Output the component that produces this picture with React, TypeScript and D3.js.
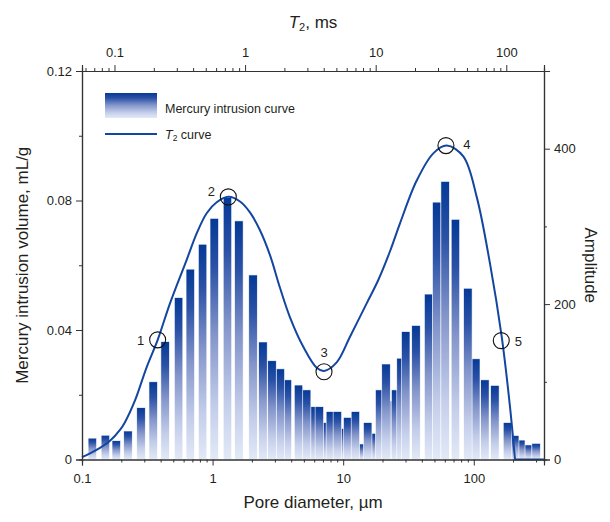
import React, { useEffect, useRef } from "react";
import * as d3 from "d3";

// Mercury intrusion bars: pore diameter (µm) and volume (mL/g)
const barDiameters = [
  0.12, 0.151, 0.183, 0.225, 0.283, 0.351, 0.433, 0.549, 0.675, 0.838,
  1.03, 1.3, 1.59, 2.04, 2.43, 2.85, 3.3, 3.74, 4.55, 5.25,
  6.08, 6.57, 7.0, 7.98, 9.03, 10.09, 10.83, 12.41, 13.87, 15.41,
  17.43, 19.04, 21.28, 23.41, 25.25, 27.73, 30.13, 36.1, 45.1, 52.05,
  60.37, 72.39, 90.1, 103.6, 121.6, 145.1, 181.2, 205.8, 229.1, 259.3, 300.2,
];
const barVolumes = [
  0.0066, 0.0075, 0.0058, 0.0088, 0.016, 0.024, 0.0364, 0.05, 0.0588, 0.0665,
  0.0745, 0.0809, 0.0737, 0.057, 0.0363, 0.0305, 0.028, 0.0246, 0.023, 0.0215,
  0.0163, 0.0163, 0.0114, 0.0148, 0.0148, 0.0096, 0.013, 0.0148, 0.0048, 0.0114,
  0.0081, 0.0215, 0.0295, 0.0181, 0.0215, 0.0313, 0.0395, 0.0414, 0.0511, 0.0795,
  0.0859, 0.0742, 0.0529, 0.0311, 0.0246, 0.0229, 0.0114, 0.0074, 0.006, 0.0045, 0.005,
];

// T2 spectrum: relaxation time (ms) and amplitude
const t2Times = [
  0.0564, 0.0649, 0.0775, 0.0924, 0.1102, 0.1203, 0.1436, 0.1765, 0.2142, 0.2661,
  0.3571, 0.426, 0.508, 0.606, 0.7438, 0.914, 1.09, 1.3, 1.551, 1.85,
  2.207, 2.79, 3.533, 4.019, 5.028, 6.357, 8.532, 10.47, 12.87, 15.35,
  20.61, 27.61, 34.97, 46.87, 59.35, 75.04, 92.21, 106.7, 116.6,
];
const t2Amplitudes = [
  3, 8, 15, 24, 38, 48, 76, 119, 154, 201,
  257, 291, 317, 331, 338, 332, 318, 295, 263, 221,
  183, 145, 118, 114, 125, 158, 201, 231, 268, 304,
  359, 394, 404, 390, 338, 252, 158, 68, 0,
];
// flat tail of the spectrum after it reaches zero
const t2TailEnd = 194.4;

// marked points on the T2 curve
const markTimes = [0.214, 0.744, 4.02, 34.5, 91.5];
const markAmps = [154, 338, 113, 404, 153];
const markLabels = ["1", "2", "3", "4", "5"];

const bottomMajor = [0.1, 1, 10, 100];
const topMajor = [0.1, 1, 10, 100];
const leftMajor = [0, 0.04, 0.08, 0.12];
const leftMinor = [0.02, 0.06, 0.1];
const rightMajor = [0, 200, 400];
const rightMinor = [100, 300, 500];

const FONT = "'Liberation Sans', Arial, sans-serif";
const INK = "#231f20";
const LINE = "#1346a0";

const minorLog = (lo: number, hi: number) => {
  const out: number[] = [];
  for (let p = -2; p <= 3; p++) {
    for (let k = 2; k <= 9; k++) {
      const v = k * Math.pow(10, p);
      if (v > lo && v < hi) out.push(v);
    }
  }
  return out;
};

const App = () => {
  const ref = useRef<SVGSVGElement | null>(null);

  useEffect(() => {
    const svg = d3.select(ref.current);
    svg.selectAll("*").remove();

    const left = 82, right = 544, top = 71, bottom = 459.5;

    const x = d3.scaleLog().domain([0.1, 345]).range([left, right]);
    const xt = d3.scaleLog().domain([0.0564, 194.4]).range([left, right]);
    const y = d3.scaleLinear().domain([0, 0.12]).range([bottom, top]);
    const yr = d3.scaleLinear().domain([0, 500]).range([bottom, top]);

    const defs = svg.append("defs");
    const grad = defs
      .append("linearGradient")
      .attr("id", "barGrad")
      .attr("x1", 0).attr("y1", 0).attr("x2", 0).attr("y2", 1);
    [
      [0, "#043996"],
      [0.2, "#2a51a6"],
      [0.48, "#8294ca"],
      [0.78, "#c3cdea"],
      [1, "#e2eaf7"],
    ].forEach(([o, c]) => grad.append("stop").attr("offset", o as number).attr("stop-color", c as string));

    // bars, shorter first so taller ones sit on top
    const half = Math.pow(10, 0.0325);
    const bars = barDiameters.map((d, i) => ({ d, v: barVolumes[i] }));
    bars.sort((a, b) => a.v - b.v);
    svg
      .append("g")
      .selectAll("rect")
      .data(bars)
      .enter()
      .append("rect")
      .attr("x", (b) => x(b.d / half))
      .attr("width", (b) => x(b.d * half) - x(b.d / half))
      .attr("y", (b) => y(b.v))
      .attr("height", (b) => bottom - y(b.v))
      .attr("fill", "url(#barGrad)")
      .attr("stroke", "#ffffff")
      .attr("stroke-width", 0.6);

    // T2 curve: smooth part, then flat tail along zero
    const pts: [number, number][] = t2Times.map((t, i) => [xt(t), yr(t2Amplitudes[i])]);
    const last = pts[pts.length - 1];
    const smooth = d3.line().curve(d3.curveCatmullRom.alpha(0.5))(pts) as string;
    svg
      .append("path")
      .attr("d", `${smooth}L${xt(t2TailEnd)},${last[1]}`)
      .attr("fill", "none")
      .attr("stroke", LINE)
      .attr("stroke-width", 2)
      .attr("stroke-linejoin", "round");

    // marks
    const offs = [
      [-17, 5], [-17, -1], [0, -15], [21, 3], [17, 5],
    ];
    markTimes.forEach((t, i) => {
      const cx = xt(t), cy = yr(markAmps[i]);
      svg.append("circle").attr("cx", cx).attr("cy", cy).attr("r", 8)
        .attr("fill", "none").attr("stroke", "#111").attr("stroke-width", 1.1);
      svg.append("text").attr("x", cx + offs[i][0]).attr("y", cy + offs[i][1])
        .attr("text-anchor", "middle").attr("font-size", 13).attr("font-family", FONT)
        .attr("fill", INK).text(markLabels[i]);
    });

    // axes
    const styleAxis = (g: any) => {
      g.selectAll("path").attr("stroke", "#333").attr("stroke-width", 1.2);
      g.selectAll("line").attr("stroke", "#333").attr("stroke-width", 1);
      g.selectAll("text").attr("font-size", 13).attr("font-family", FONT).attr("fill", INK);
    };
    const fmt = (v: any) => d3.format("~g")(v);

    const gb = svg.append("g").attr("transform", `translate(0,${bottom})`);
    gb.append("g").call(d3.axisBottom(x).tickValues(minorLog(0.1, 345)).tickSize(3).tickFormat(() => "")).call(styleAxis);
    gb.append("g").call(d3.axisBottom(x).tickValues(bottomMajor).tickSize(6).tickPadding(8).tickFormat(fmt)).call(styleAxis);

    const gt = svg.append("g").attr("transform", `translate(0,${top})`);
    gt.append("g").call(d3.axisTop(xt).tickValues(minorLog(0.0564, 194.4)).tickSize(3).tickFormat(() => "")).call(styleAxis);
    gt.append("g").call(d3.axisTop(xt).tickValues(topMajor).tickSize(6).tickPadding(8).tickFormat(fmt)).call(styleAxis);

    const gl = svg.append("g").attr("transform", `translate(${left},0)`);
    gl.append("g").call(d3.axisLeft(y).tickValues(leftMinor).tickSize(3).tickFormat(() => "")).call(styleAxis);
    gl.append("g").call(d3.axisLeft(y).tickValues(leftMajor).tickSize(6).tickPadding(4).tickFormat(fmt)).call(styleAxis);

    const gr = svg.append("g").attr("transform", `translate(${right},0)`);
    gr.append("g").call(d3.axisRight(yr).tickValues(rightMinor).tickSize(3).tickFormat(() => "")).call(styleAxis);
    gr.append("g").call(d3.axisRight(yr).tickValues(rightMajor).tickSize(6).tickPadding(4).tickFormat(fmt)).call(styleAxis);

    // titles
    const cx = (left + right) / 2, cy = (top + bottom) / 2;
    svg.append("text").attr("x", cx).attr("y", 508).attr("text-anchor", "middle")
      .attr("font-size", 17).attr("font-family", FONT).attr("fill", INK).text("Pore diameter, µm");

    const tt = svg.append("text").attr("x", cx).attr("y", 28).attr("text-anchor", "middle")
      .attr("font-size", 17).attr("font-family", FONT).attr("fill", INK);
    tt.append("tspan").attr("font-style", "italic").text("T");
    tt.append("tspan").attr("font-size", 11).attr("dy", 3).text("2");
    tt.append("tspan").attr("dy", -3).text(", ms");

    svg.append("text").attr("transform", `translate(28,${cy}) rotate(-90)`).attr("text-anchor", "middle")
      .attr("font-size", 17).attr("font-family", FONT).attr("fill", INK).text("Mercury intrusion volume, mL/g");

    svg.append("text").attr("transform", `translate(585,${cy}) rotate(90)`).attr("text-anchor", "middle")
      .attr("font-size", 17).attr("font-family", FONT).attr("fill", INK).text("Amplitude");

    // legend
    svg.append("rect").attr("x", 105).attr("y", 93).attr("width", 52).attr("height", 25).attr("fill", "url(#barGrad)");
    svg.append("text").attr("x", 165).attr("y", 113).attr("font-size", 12.5).attr("font-family", FONT)
      .attr("fill", INK).text("Mercury intrusion curve");
    svg.append("line").attr("x1", 105).attr("x2", 157).attr("y1", 134).attr("y2", 134)
      .attr("stroke", LINE).attr("stroke-width", 2);
    const lt = svg.append("text").attr("x", 165).attr("y", 138.5).attr("font-size", 12.5)
      .attr("font-family", FONT).attr("fill", INK);
    lt.append("tspan").attr("font-style", "italic").text("T");
    lt.append("tspan").attr("font-size", 8.5).attr("dy", 2.5).text("2");
    lt.append("tspan").attr("dy", -2.5).text(" curve");
  }, []);

  return (
    <div style={{ position: "absolute", left: 0, top: 0 }}>
      <svg ref={ref} width={610} height={522} style={{ display: "block", background: "#fff" }} />
    </div>
  );
};

export default App;
